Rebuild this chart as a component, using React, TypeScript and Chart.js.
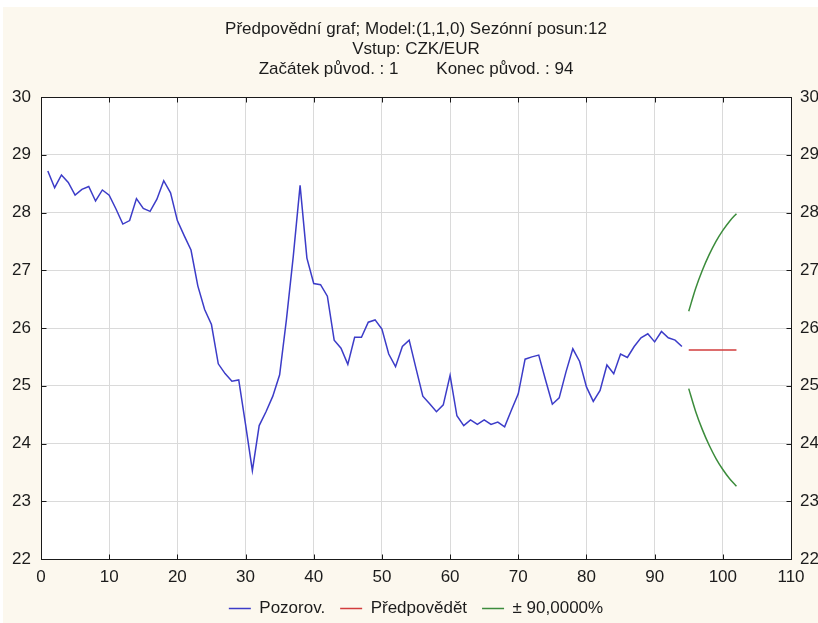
import React, { useEffect, useRef } from "react";
import { Chart, registerables } from "chart.js";

Chart.register(...registerables);

const FONT = "'Liberation Sans', Arial, Helvetica, sans-serif";

const titleLines = [
  "Předpovědní graf; Model:(1,1,0) Sezónní posun:12",
  "Vstup: CZK/EUR",
  "Začátek původ. : 1        Konec původ. : 94",
];

const seriesNames = ["Pozorov.", "Předpovědět", "± 90,0000%"];

const observedStart = 1;
const observed = [
  28.72, 28.43, 28.65, 28.52, 28.3, 28.4, 28.45, 28.2, 28.39, 28.3,
  28.06, 27.8, 27.86, 28.24, 28.07, 28.02, 28.23, 28.55, 28.34, 27.86,
  27.6, 27.35, 26.73, 26.32, 26.06, 25.38, 25.21, 25.08, 25.1, 24.33,
  23.53, 24.31, 24.55, 24.82, 25.19, 26.15, 27.24, 28.47, 27.21, 26.77,
  26.75, 26.55, 25.79, 25.65, 25.37, 25.84, 25.84, 26.1, 26.14, 25.98,
  25.55, 25.33, 25.68, 25.79, 25.3, 24.82, 24.69, 24.55, 24.67, 25.18,
  24.48, 24.31, 24.41, 24.33, 24.41, 24.33, 24.37, 24.29, 24.58, 24.86,
  25.46, 25.5, 25.53, 25.1, 24.68, 24.79, 25.24, 25.64, 25.42, 24.98,
  24.73, 24.92, 25.36, 25.21, 25.55, 25.49, 25.68, 25.83, 25.9, 25.76,
  25.94, 25.83, 25.79, 25.68,
];

const forecastStart = 95;
const forecast = [25.62, 25.62, 25.62, 25.62, 25.62, 25.62, 25.62, 25.62];
const upper = [26.29, 26.68, 27.0, 27.27, 27.5, 27.69, 27.85, 27.98];
const lower = [24.95, 24.56, 24.24, 23.97, 23.74, 23.55, 23.39, 23.26];

const xMin = 0;
const xMax = 110;
const xStep = 10;
const yMin = 22;
const yMax = 30;
const yStep = 1;

const colors = {
  observed: "#3c3cc8",
  forecast: "#d23c3c",
  band: "#3c8c3c",
  grid: "#dadada",
  text: "#1c1c1c",
  bg: "#fcf8ee",
};

const toPoints = (values: number[], start: number) =>
  values.map((y, i) => ({ x: start + i, y }));

const framePlugin = {
  id: "frameAndBackground",
  beforeDraw(chart: any) {
    const { ctx, width, height, chartArea: a } = chart;
    ctx.save();
    ctx.fillStyle = "#ffffff";
    ctx.fillRect(0, 0, width, height);
    ctx.fillStyle = colors.bg;
    ctx.fillRect(3, 7, width - 3, height - 7);
    ctx.fillStyle = "#ffffff";
    ctx.fillRect(a.left, a.top, a.right - a.left, a.bottom - a.top);
    ctx.restore();
  },
  afterDraw(chart: any) {
    const { ctx, chartArea: a, scales } = chart;
    ctx.save();
    ctx.strokeStyle = "#1a1a1a";
    ctx.lineWidth = 1;
    const L = Math.round(a.left) + 0.5;
    const R = Math.round(a.right) + 0.5;
    const T = Math.round(a.top) + 0.5;
    const B = Math.round(a.bottom) + 0.5;
    ctx.strokeRect(L, T, R - L, B - T);
    const tl = 5;
    ctx.beginPath();
    scales.x.ticks.forEach((t: any) => {
      const px = Math.round(scales.x.getPixelForValue(t.value)) + 0.5;
      ctx.moveTo(px, T);
      ctx.lineTo(px, T + tl);
      ctx.moveTo(px, B);
      ctx.lineTo(px, B - tl);
    });
    scales.y.ticks.forEach((t: any) => {
      const py = Math.round(scales.y.getPixelForValue(t.value)) + 0.5;
      ctx.moveTo(L, py);
      ctx.lineTo(L + tl, py);
      ctx.moveTo(R, py);
      ctx.lineTo(R - tl, py);
    });
    ctx.stroke();
    ctx.restore();
  },
};

export default function App() {
  const ref = useRef<HTMLCanvasElement | null>(null);

  useEffect(() => {
    document.body.style.margin = "0";
    const canvas = ref.current;
    if (!canvas) return;

    const tickFont = { family: FONT, size: 17 };

    const chart = new Chart(canvas, {
      type: "line",
      data: {
        datasets: [
          {
            label: seriesNames[0],
            data: toPoints(observed, observedStart),
            borderColor: colors.observed,
            backgroundColor: colors.observed,
            borderWidth: 1.5,
            pointRadius: 0,
            tension: 0,
          },
          {
            label: seriesNames[1],
            data: toPoints(forecast, forecastStart),
            borderColor: colors.forecast,
            backgroundColor: colors.forecast,
            borderWidth: 1.5,
            pointRadius: 0,
            tension: 0,
          },
          {
            label: seriesNames[2],
            data: toPoints(upper, forecastStart),
            borderColor: colors.band,
            backgroundColor: colors.band,
            borderWidth: 1.5,
            pointRadius: 0,
            cubicInterpolationMode: "monotone",
          },
          {
            label: seriesNames[2] + " ",
            data: toPoints(lower, forecastStart),
            borderColor: colors.band,
            backgroundColor: colors.band,
            borderWidth: 1.5,
            pointRadius: 0,
            cubicInterpolationMode: "monotone",
          },
        ],
      },
      options: {
        animation: false,
        responsive: false,
        maintainAspectRatio: false,
        layout: { padding: { left: 0, right: 0, top: 0, bottom: -4 } },
        scales: {
          x: {
            type: "linear",
            min: xMin,
            max: xMax,
            ticks: {
              stepSize: xStep,
              font: tickFont,
              color: colors.text,
              padding: 8,
              maxRotation: 0,
            },
            grid: { color: colors.grid, drawTicks: false, lineWidth: 1 },
            border: { display: false },
            afterFit: (s: any) => {
              s.height = 26;
            },
          },
          y: {
            type: "linear",
            position: "left",
            min: yMin,
            max: yMax,
            ticks: {
              stepSize: yStep,
              font: tickFont,
              color: colors.text,
              padding: 10,
            },
            grid: { color: colors.grid, drawTicks: false, lineWidth: 1 },
            border: { display: false },
            afterFit: (s: any) => {
              s.width = 41;
            },
          },
          y2: {
            type: "linear",
            position: "right",
            min: yMin,
            max: yMax,
            ticks: {
              stepSize: yStep,
              font: tickFont,
              color: colors.text,
              padding: 9,
            },
            grid: { display: false, drawTicks: false },
            border: { display: false },
            afterFit: (s: any) => {
              s.width = 27;
            },
          },
        },
        plugins: {
          title: {
            display: true,
            text: titleLines,
            fullSize: false,
            color: colors.text,
            font: { family: FONT, size: 17, weight: "normal", lineHeight: "20px" },
            padding: { top: 19, bottom: 18 },
          },
          legend: {
            display: true,
            position: "bottom",
            fullSize: false,
            labels: {
              font: { family: FONT, size: 17 },
              color: colors.text,
              boxWidth: 22,
              boxHeight: 1.5,
              padding: 15,
              filter: (item: any) => item.datasetIndex !== 3,
              generateLabels: (chart: any) =>
                Chart.defaults.plugins.legend.labels
                  .generateLabels(chart)
                  .map((l: any) => ({ ...l, fillStyle: l.strokeStyle, lineWidth: 0 })),
            },
          },
          tooltip: { enabled: false },
        },
      },
      plugins: [framePlugin],
    } as any);

    return () => chart.destroy();
  }, []);

  return (
    <div style={{ width: 818, height: 623 }}>
      <canvas ref={ref} width={818} height={623} style={{ display: "block" }} />
    </div>
  );
}
